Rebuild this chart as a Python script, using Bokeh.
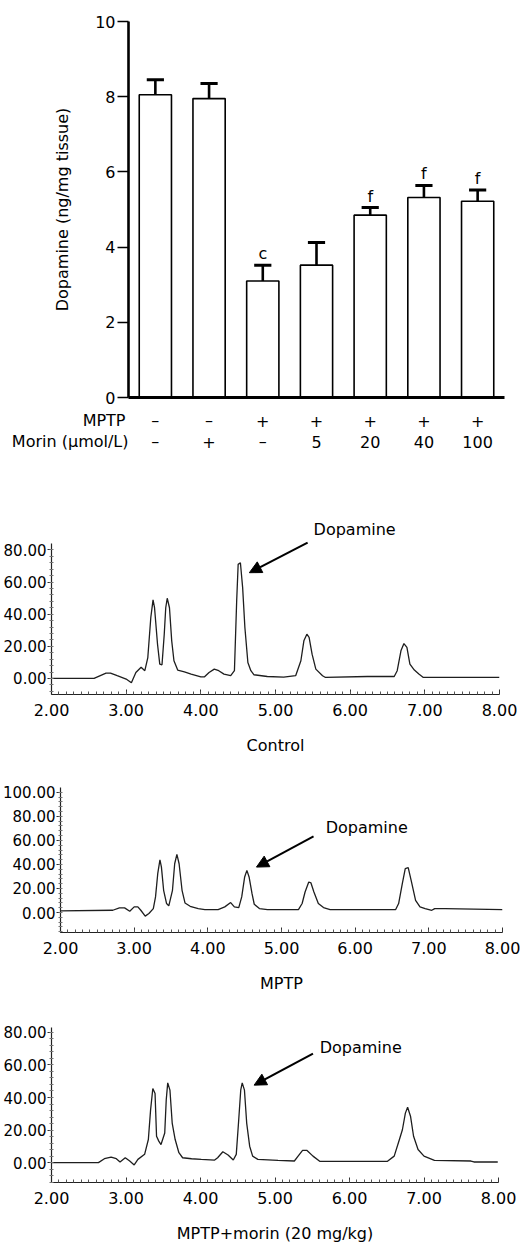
import numpy as np
from bokeh.plotting import figure
from bokeh.models import (FixedTicker, Label, Arrow, NormalHead, Range1d, NumeralTickFormatter)
from bokeh.embed import file_html
from bokeh.resources import INLINE
from bokeh.core.properties import value

FONT = "DejaVu Sans"
W = 521

# ---------------- bar chart data ----------------
groups = [1, 2, 3, 4, 5, 6, 7]
dopamine_mean = [8.05, 7.95, 3.10, 3.52, 4.85, 5.32, 5.22]
dopamine_sem = [0.40, 0.40, 0.42, 0.60, 0.20, 0.32, 0.30]
sig_letters = ["", "", "c", "", "f", "f", "f"]
mptp_row = ["\u2013", "\u2013", "+", "+", "+", "+", "+"]
morin_row = ["\u2013", "+", "\u2013", "5", "20", "40", "100"]
row_titles = ["MPTP", "Morin (\u03bcmol/L)"]
bar_yticks = [0, 2, 4, 6, 8, 10]

# ---------------- chromatogram data ----------------
control_t = [2.00, 2.57, 2.73, 2.79, 2.88, 3.00, 3.07, 3.13, 3.20, 3.25, 3.29, 3.33, 3.36, 3.38,
             3.42, 3.45, 3.48, 3.51, 3.53, 3.55, 3.58, 3.61, 3.64, 3.69, 3.78, 3.87, 4.00, 4.05,
             4.11, 4.18, 4.24, 4.31, 4.40, 4.45, 4.48, 4.50, 4.53, 4.56, 4.59, 4.63, 4.67, 4.71,
             4.89, 5.11, 5.27, 5.34, 5.38, 5.42, 5.45, 5.49, 5.54, 5.63, 5.67, 6.23, 6.59, 6.63,
             6.68, 6.72, 6.76, 6.80, 6.86, 6.92, 6.98, 8.00]
control_y = [0, 0, 3.3, 3.3, 1.7, -0.4, -2.7, 3.7, 7.0, 4.8, 13.0, 37.9, 48.9, 44.0,
             21.3, 8.9, 8.5, 27.5, 44.0, 49.9, 44.0, 23.4, 11.0, 5.2, 4.1, 2.7, 1.0, 1.0,
             3.7, 5.8, 4.8, 2.7, 1.7, 4.8, 48.2, 71.0, 72.0, 56.5, 31.7, 9.9, 4.8, 2.3,
             1.2, 0.8, 1.7, 11.0, 23.4, 27.5, 25.5, 15.1, 5.8, 1.7, 0.6, 1.2, 1.2, 4.8,
             17.2, 21.7, 19.3, 8.9, 5.2, 2.7, 0.6, 0.6]

mptp_t = [2.00, 2.71, 2.80, 2.87, 2.94, 3.00, 3.05, 3.09, 3.15, 3.20, 3.26, 3.29, 3.32, 3.35,
          3.37, 3.40, 3.44, 3.47, 3.52, 3.55, 3.58, 3.61, 3.65, 3.69, 3.76, 3.87, 3.96, 4.14,
          4.23, 4.31, 4.36, 4.42, 4.46, 4.50, 4.53, 4.56, 4.60, 4.63, 4.70, 4.81, 5.23, 5.28,
          5.32, 5.37, 5.40, 5.44, 5.50, 5.57, 5.66, 6.55, 6.59, 6.64, 6.68, 6.72, 6.76, 6.82,
          6.88, 6.95, 7.04, 7.08, 7.22, 8.00]
mptp_y = [1.4, 1.9, 3.9, 3.9, 1.1, 4.7, 4.7, 1.9, -3.0, -0.8, 3.3, 13.0, 32.3, 43.9,
          37.8, 18.5, 7.5, 5.5, 18.5, 40.6, 48.3, 40.6, 18.5, 8.0, 5.2, 3.3, 2.5, 2.5,
          4.7, 8.3, 4.7, 4.1, 13.0, 29.6, 35.1, 29.6, 15.7, 6.9, 3.3, 2.5, 2.5, 7.5,
          17.1, 25.4, 24.6, 17.1, 7.5, 4.1, 2.5, 2.5, 7.5, 24.0, 36.5, 37.3, 26.8, 10.2,
          4.7, 3.3, 1.9, 3.3, 3.3, 2.5]

morin_t = [2.00, 2.63, 2.71, 2.80, 2.87, 2.92, 2.99, 3.05, 3.11, 3.16, 3.25, 3.30, 3.33, 3.36,
           3.39, 3.41, 3.44, 3.47, 3.52, 3.54, 3.56, 3.59, 3.62, 3.66, 3.71, 3.76, 3.88, 4.01,
           4.19, 4.23, 4.30, 4.37, 4.44, 4.48, 4.51, 4.54, 4.56, 4.59, 4.62, 4.66, 4.70, 4.77,
           5.04, 5.26, 5.31, 5.37, 5.43, 5.51, 5.60, 6.51, 6.60, 6.67, 6.71, 6.75, 6.78, 6.82,
           6.86, 6.92, 7.00, 7.14, 7.63, 7.67, 7.99]
morin_y = [0, 0, 2.4, 3.4, 2.4, 0.4, 3.0, 1.0, -1.4, 2.0, 5.1, 14.2, 32.4, 45.5,
           42.5, 16.2, 13.2, 11.1, 18.2, 38.5, 49.0, 44.5, 24.3, 14.2, 6.1, 3.0, 2.4, 2.0,
           1.6, 3.0, 6.7, 4.7, 1.6, 5.1, 24.3, 44.5, 49.0, 44.5, 24.3, 10.1, 4.0, 2.0,
           1.4, 1.0, 4.0, 7.5, 7.5, 4.0, 0.8, 0.8, 4.0, 14.2, 20.2, 30.4, 34.0, 28.3,
           16.2, 8.1, 4.0, 1.4, 1.0, 0.4, 0.4]

chrom_xticks = [2, 3, 4, 5, 6, 7, 8]

# ================= bar chart =================
BAR_LEFT = 128
BAR_RIGHT_BORDER = 17
BAR_PX_PER_UNIT = (W - BAR_RIGHT_BORDER - BAR_LEFT) / 7.0
p1 = figure(width=W, height=407, output_backend="svg", toolbar_location=None,
            x_range=Range1d(0.5, 7.5), y_range=Range1d(0, 10),
            min_border_left=BAR_LEFT, min_border_right=BAR_RIGHT_BORDER,
            min_border_top=21, min_border_bottom=10)
p1.outline_line_color = None
p1.xgrid.visible = False
p1.ygrid.visible = False

p1.vbar(x=groups, top=dopamine_mean, bottom=0, width=0.6, fill_color="white",
        line_color="black", line_width=1.6)
err_top = np.array(dopamine_mean) + np.array(dopamine_sem)
g = np.array(groups, dtype=float)
p1.segment(x0=g, y0=dopamine_mean, x1=g, y1=err_top, line_color="black", line_width=2.6)
p1.segment(x0=g - 0.16, y0=err_top, x1=g + 0.16, y1=err_top, line_color="black", line_width=3)
p1.text(x=g, y=err_top, text=sig_letters, text_align="center", text_baseline="bottom",
        y_offset=-2, text_font=value(FONT), text_font_size="16px", text_color="black")

ya = p1.yaxis[0]
ya.ticker = FixedTicker(ticks=bar_yticks)
ya.axis_line_width = 2.6
ya.axis_line_color = "black"
ya.major_tick_out = 11
ya.major_tick_in = 0
ya.major_tick_line_width = 1.5
ya.minor_tick_line_color = None
ya.major_label_text_font = FONT
ya.major_label_text_font_size = "16px"
ya.major_label_text_color = "black"
ya.major_label_standoff = 2
ya.axis_label = "Dopamine (ng/mg tissue)"
ya.axis_label_text_font = FONT
ya.axis_label_text_font_size = "16px"
ya.axis_label_text_font_style = "normal"
ya.axis_label_text_color = "black"
ya.axis_label_standoff = 20

xa = p1.xaxis[0]
xa.ticker = FixedTicker(ticks=[])
xa.axis_line_width = 3
xa.axis_line_color = "black"
xa.major_tick_line_color = None
xa.minor_tick_line_color = None
xa.major_label_text_font_size = "0px"

# ---- treatment rows under the bar chart (same x scale as the bars) ----
ROW_H = 53
row_top_val = -10 / 37.6
row_bot_val = row_top_val - ROW_H / 37.6
p1b = figure(width=W, height=ROW_H, output_backend="svg", toolbar_location=None,
             x_range=Range1d(0.5 - BAR_LEFT / BAR_PX_PER_UNIT, 0.5 + (W - BAR_LEFT) / BAR_PX_PER_UNIT),
             y_range=Range1d(row_bot_val, row_top_val),
             min_border_left=0, min_border_right=0, min_border_top=0, min_border_bottom=0)
p1b.outline_line_color = None
p1b.axis.visible = False
p1b.grid.visible = False
p1b.text(x=groups, y=[-0.62] * 7, text=mptp_row, text_align="center", text_baseline="middle",
         text_font=value(FONT), text_font_size="16px", text_color="black")
p1b.text(x=groups, y=[-1.18] * 7, text=morin_row, text_align="center", text_baseline="middle",
         text_font=value(FONT), text_font_size="16px", text_color="black")
p1b.text(x=[0.5, 0.5], y=[-0.62, -1.18], x_offset=[-3, 0], text=row_titles,
         text_align="right", text_baseline="middle",
         text_font=value(FONT), text_font_size="16px", text_color="black")


# ================= chromatograms =================
def chrom(t, y, yr, ytop, yticks, caption, height, top, bottom, label_xy, arrow, left, right):
    p = figure(width=W, height=height, output_backend="svg", toolbar_location=None,
               x_range=Range1d(2, 8), y_range=Range1d(yr[0], ytop),
               min_border_left=left, min_border_right=right,
               min_border_top=top, min_border_bottom=bottom)
    p.outline_line_color = None
    p.xgrid.visible = False
    p.ygrid.visible = False
    p.line(t, y, line_color="#1e1e1e", line_width=1.3)

    xa = p.xaxis[0]
    xa.ticker = FixedTicker(ticks=chrom_xticks, minor_ticks=list(np.arange(2, 8.001, 0.1)))
    xa.formatter = NumeralTickFormatter(format="0.00")
    xa.axis_line_color = "#222222"
    xa.axis_line_width = 1.2
    xa.major_tick_in = 5
    xa.major_tick_out = 0
    xa.minor_tick_in = 3
    xa.minor_tick_out = 0
    xa.major_tick_line_color = "#333333"
    xa.minor_tick_line_color = "#555555"
    xa.major_label_text_font = FONT
    xa.major_label_text_font_size = "16px"
    xa.major_label_text_color = "black"
    xa.major_label_standoff = 9
    xa.axis_label = caption
    xa.axis_label_text_font = FONT
    xa.axis_label_text_font_size = "16px"
    xa.axis_label_text_font_style = "normal"
    xa.axis_label_text_color = "black"
    xa.axis_label_standoff = 17

    ya = p.yaxis[0]
    ya.bounds = yr
    ya.ticker = FixedTicker(ticks=yticks,
                            minor_ticks=list(np.arange(np.ceil(yr[0] / 4) * 4, yr[1], 4)))
    ya.formatter = NumeralTickFormatter(format="0.00")
    ya.axis_line_color = "#222222"
    ya.axis_line_width = 1.2
    ya.major_tick_out = 4
    ya.major_tick_in = 0
    ya.minor_tick_in = 2
    ya.minor_tick_out = 2
    ya.major_tick_line_color = "#333333"
    ya.minor_tick_line_color = "#777777"
    ya.major_label_text_font = FONT
    ya.major_label_text_font_size = "15px"
    ya.major_label_text_color = "black"
    ya.major_label_standoff = 1

    p.add_layout(Label(x=label_xy[0], y=label_xy[1], text="Dopamine", text_align="left",
                       text_baseline="middle", text_font=FONT, text_font_size="16px",
                       text_color="black"))
    p.add_layout(Arrow(end=NormalHead(size=12, fill_color="black", line_color="black"),
                       x_start=arrow[0], y_start=arrow[1], x_end=arrow[2], y_end=arrow[3],
                       line_color="black", line_width=2))
    return p


p2 = chrom(control_t, control_y, (-10, 84), 101.4, [0, 20, 40, 60, 80], "Control",
           300, 55, 66, (5.51, 92.4), (5.43, 84.5, 4.65, 65.8), 51, 22)
p3 = chrom(mptp_t, mptp_y, (-16.6, 104), 104, [0, 20, 40, 60, 80, 100], "MPTP",
           240, 27, 68, (5.60, 70.8), (5.435, 63.3, 4.66, 37.8), 53, 19)
p4 = chrom(morin_t, morin_y, (-12.2, 83), 83, [0, 20, 40, 60, 80], "MPTP+morin (20 mg/kg)",
           246, 27, 64, (5.60, 70.7), (5.51, 67.0, 4.72, 47.6), 50, 23)

open("out.html", "w").write(file_html([p1, p1b, p2, p3, p4], INLINE))
